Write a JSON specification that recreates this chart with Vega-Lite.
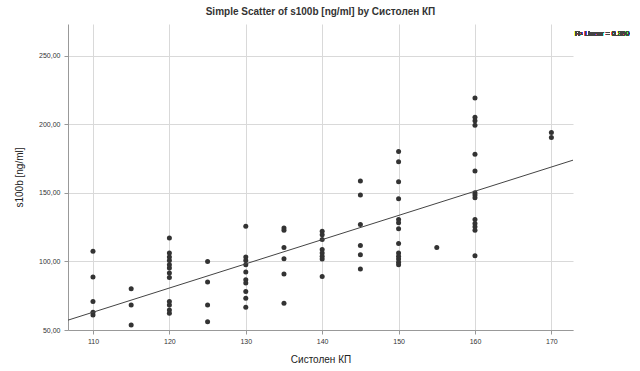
{
  "$schema": "https://vega.github.io/schema/vega-lite/v6.json",
  "width": 505,
  "height": 306,
  "autosize": {"type": "none"},
  "padding": {"left": 68, "top": 24, "right": 67, "bottom": 41},
  "background": "white",
  "title": {"text": "Simple Scatter of s100b [ng/ml] by Систолен КП", "fontSize": 10, "fontWeight": "bold", "font": "Liberation Sans", "color": "#333", "anchor": "middle", "offset": 7},
  "config": {
    "view": {"stroke": null},
    "axis": {"labelFont": "Liberation Sans", "titleFont": "Liberation Sans", "labelFontSize": 7, "labelColor": "#333", "titleColor": "#222", "titleFontSize": 10, "titleFontWeight": "normal", "gridColor": "#d9d9d9", "gridWidth": 1, "domainColor": "#999", "tickColor": "#999", "tickSize": 4}
  },
  "data": {"values": [
    {"sbp": 110, "s100b": 107.3}, {"sbp": 110, "s100b": 88.6}, {"sbp": 110, "s100b": 70.7}, {"sbp": 110, "s100b": 63}, {"sbp": 110, "s100b": 61},
    {"sbp": 115, "s100b": 80}, {"sbp": 115, "s100b": 68.3}, {"sbp": 115, "s100b": 53.7},
    {"sbp": 120, "s100b": 117.1}, {"sbp": 120, "s100b": 106.1}, {"sbp": 120, "s100b": 103.2}, {"sbp": 120, "s100b": 100.7}, {"sbp": 120, "s100b": 97.6}, {"sbp": 120, "s100b": 95.2}, {"sbp": 120, "s100b": 91.5}, {"sbp": 120, "s100b": 88.3}, {"sbp": 120, "s100b": 70.7}, {"sbp": 120, "s100b": 68.3}, {"sbp": 120, "s100b": 64.6}, {"sbp": 120, "s100b": 62.2},
    {"sbp": 125, "s100b": 100}, {"sbp": 125, "s100b": 84.9}, {"sbp": 125, "s100b": 68.3}, {"sbp": 125, "s100b": 56.1},
    {"sbp": 130, "s100b": 125.6}, {"sbp": 130, "s100b": 103.2}, {"sbp": 130, "s100b": 100.7}, {"sbp": 130, "s100b": 97.6}, {"sbp": 130, "s100b": 92.2}, {"sbp": 130, "s100b": 86.6}, {"sbp": 130, "s100b": 84.2}, {"sbp": 130, "s100b": 78}, {"sbp": 130, "s100b": 73.2}, {"sbp": 130, "s100b": 66.6},
    {"sbp": 135, "s100b": 124.4}, {"sbp": 135, "s100b": 122.7}, {"sbp": 135, "s100b": 110.2}, {"sbp": 135, "s100b": 102}, {"sbp": 135, "s100b": 90.8}, {"sbp": 135, "s100b": 69.5},
    {"sbp": 140, "s100b": 122}, {"sbp": 140, "s100b": 119.5}, {"sbp": 140, "s100b": 115.9}, {"sbp": 140, "s100b": 108.6}, {"sbp": 140, "s100b": 106.1}, {"sbp": 140, "s100b": 103.7}, {"sbp": 140, "s100b": 101.8}, {"sbp": 140, "s100b": 89},
    {"sbp": 145, "s100b": 158.6}, {"sbp": 145, "s100b": 148.3}, {"sbp": 145, "s100b": 126.9}, {"sbp": 145, "s100b": 111.5}, {"sbp": 145, "s100b": 104.9}, {"sbp": 145, "s100b": 94.4},
    {"sbp": 150, "s100b": 180}, {"sbp": 150, "s100b": 172.7}, {"sbp": 150, "s100b": 158.1}, {"sbp": 150, "s100b": 145.6}, {"sbp": 150, "s100b": 130.5}, {"sbp": 150, "s100b": 128.1}, {"sbp": 150, "s100b": 123.7}, {"sbp": 150, "s100b": 113}, {"sbp": 150, "s100b": 106.1}, {"sbp": 150, "s100b": 103.7}, {"sbp": 150, "s100b": 101.8}, {"sbp": 150, "s100b": 99.3}, {"sbp": 150, "s100b": 97.6},
    {"sbp": 155, "s100b": 110.2},
    {"sbp": 160, "s100b": 219.1}, {"sbp": 160, "s100b": 205}, {"sbp": 160, "s100b": 202.5}, {"sbp": 160, "s100b": 199.3}, {"sbp": 160, "s100b": 178.1}, {"sbp": 160, "s100b": 165.9}, {"sbp": 160, "s100b": 150.1}, {"sbp": 160, "s100b": 148.3}, {"sbp": 160, "s100b": 146.4}, {"sbp": 160, "s100b": 130.5}, {"sbp": 160, "s100b": 127.6}, {"sbp": 160, "s100b": 125.2}, {"sbp": 160, "s100b": 122.7}, {"sbp": 160, "s100b": 104.2},
    {"sbp": 170, "s100b": 194}, {"sbp": 170, "s100b": 190.3}
  ]},
  "layer": [
    {
      "mark": {"type": "circle", "size": 25, "color": "#333", "opacity": 1},
      "encoding": {
        "x": {"field": "sbp", "type": "quantitative", "scale": {"domain": [106.73, 172.83], "nice": false, "zero": false}, "axis": {"title": "Систолен КП", "values": [110, 120, 130, 140, 150, 160, 170], "titlePadding": 10, "labelPadding": 3}},
        "y": {"field": "s100b", "type": "quantitative", "scale": {"domain": [50, 273], "nice": false, "zero": false}, "axis": {"title": "s100b [ng/ml]", "values": [50, 100, 150, 200, 250], "labelExpr": "replace(format(datum.value, '.2f'), '.', ',')", "titlePadding": 14, "labelPadding": 4}}
      }
    },
    {
      "transform": [{"regression": "s100b", "on": "sbp", "extent": [106.73, 172.83]}],
      "mark": {"type": "line", "color": "#444", "strokeWidth": 1},
      "encoding": {
        "x": {"field": "sbp", "type": "quantitative"},
        "y": {"field": "s100b", "type": "quantitative"}
      }
    },
    {
      "mark": {"type": "text", "text": "R² Linear = 0.390", "fontSize": 7, "font": "Liberation Sans", "color": "#444", "align": "left", "baseline": "middle", "clip": false},
      "encoding": {
        "x": {"datum": 173.1, "type": "quantitative"},
        "y": {"datum": 265.5, "type": "quantitative"}
      }
    }
  ]
}
